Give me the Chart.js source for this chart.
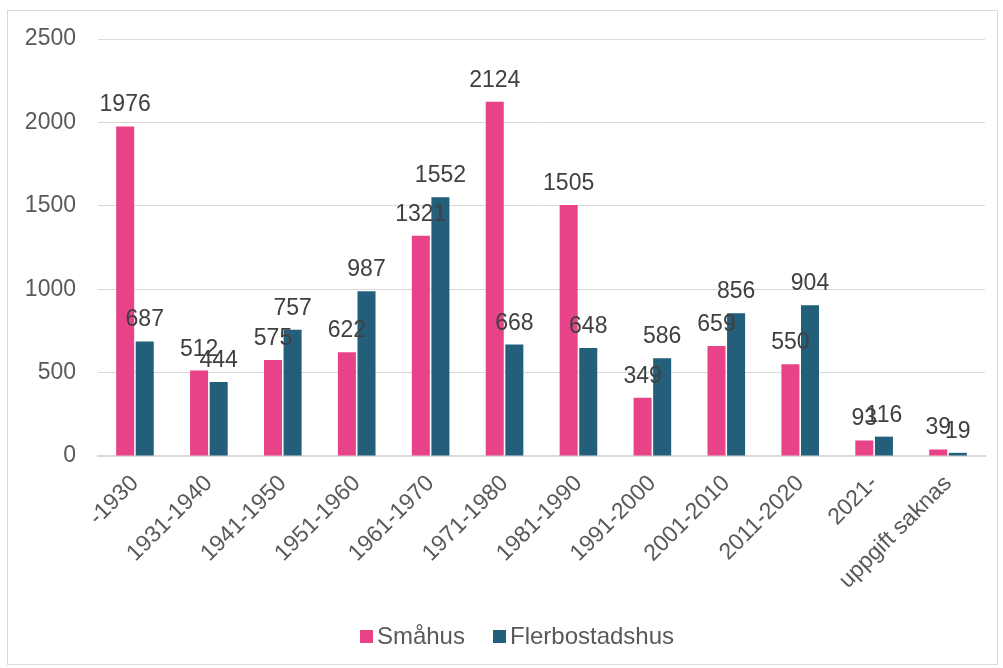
<!DOCTYPE html>
<html>
<head>
<meta charset="utf-8">
<script src="https://cdn.jsdelivr.net/npm/chart.js@4/dist/chart.umd.min.js"></script>
<style>
    body { margin: 0; background: #fff; font-family: "Liberation Sans", Arial, sans-serif; }
    .chart-wrap {
        position: absolute; left: 7px; top: 10px;
        width: 991px; height: 655px;
        border: 1px solid #d9d9d9; box-sizing: border-box;
    }
    .chart-wrap canvas { display: block; }
    .legend {
        position: absolute; left: 0; right: 0; top: 611px;
        text-align: center; font-size: 24px; color: #595959;
        padding-left: 29px;
    }
    .legend span { display: inline-block; margin: 0 14px; }
    .legend i {
        display: inline-block; width: 13px; height: 13px;
        margin-right: 4px; vertical-align: 1px;
    }
</style>
</head>
<body>
<div class="chart-wrap">
    <canvas id="chart" width="989" height="653"></canvas>
    <div class="legend" id="legend"></div>
</div>
<script>
const categories = ['-1930', '1931-1940', '1941-1950', '1951-1960', '1961-1970', '1971-1980',
    '1981-1990', '1991-2000', '2001-2010', '2011-2020', '2021-', 'uppgift saknas']
const smahus = [1976, 512, 575, 622, 1321, 2124, 1505, 349, 659, 550, 93, 39]
const flerbostadshus = [687, 444, 757, 987, 1552, 668, 648, 586, 856, 904, 116, 19]
const yTicks = [0, 500, 1000, 1500, 2000, 2500]

const textColor = '#595959'
const fontFamily = '"Liberation Sans", Arial, sans-serif'

// draws the value above each bar
const valueLabels = {
    id: 'valueLabels',
    afterDatasetsDraw: function (chart) {
        const ctx = chart.ctx
        ctx.save()
        ctx.font = '23px ' + fontFamily
        ctx.fillStyle = '#404040'
        ctx.textAlign = 'center'
        ctx.textBaseline = 'alphabetic'
        chart.data.datasets.forEach(function (ds, i) {
            chart.getDatasetMeta(i).data.forEach(function (bar, j) {
                ctx.fillText(String(ds.data[j]), bar.x, bar.y - 15)
            })
        })
        ctx.restore()
    }
}

const chart = new Chart(document.getElementById('chart'), {
    type: 'bar',
    data: {
        labels: categories,
        datasets: [
            {
                label: 'Småhus',
                data: smahus,
                backgroundColor: '#e84389',
                barPercentage: 0.92,
                categoryPercentage: 0.53
            },
            {
                label: 'Flerbostadshus',
                data: flerbostadshus,
                backgroundColor: '#235e7a',
                barPercentage: 0.92,
                categoryPercentage: 0.53
            }
        ]
    },
    plugins: [valueLabels],
    options: {
        responsive: false,
        animation: false,
        layout: { padding: { top: 28, right: 12, left: 0, bottom: 0 } },
        plugins: {
            tooltip: { enabled: false },
            legend: { display: false }
        },
        scales: {
            y: {
                min: 0,
                max: 2500,
                afterFit: function (scale) {
                    scale.width = 90
                    // tick padding should only push labels sideways
                    scale.paddingTop = 0
                    scale.paddingBottom = 0
                },
                afterBuildTicks: function (scale) {
                    scale.ticks = yTicks.map(function (v) { return { value: v } })
                },
                border: { display: false },
                grid: { color: '#d9d9d9', drawTicks: false },
                ticks: {
                    padding: 22,
                    color: textColor,
                    font: { size: 23, family: fontFamily },
                    callback: function (v) { return String(v) }
                }
            },
            x: {
                afterFit: function (scale) { scale.height = 208 },
                border: { color: '#d9d9d9', width: 2 },
                grid: { display: false },
                ticks: {
                    minRotation: 45,
                    maxRotation: 45,
                    padding: 6,
                    color: textColor,
                    font: { size: 23, family: fontFamily }
                }
            }
        }
    }
})

// html legend built from the datasets
document.getElementById('legend').innerHTML = chart.data.datasets.map(function (ds) {
    return '<span><i style="background:' + ds.backgroundColor + '"></i>' + ds.label + '</span>'
}).join('')
</script>
</body>
</html>
